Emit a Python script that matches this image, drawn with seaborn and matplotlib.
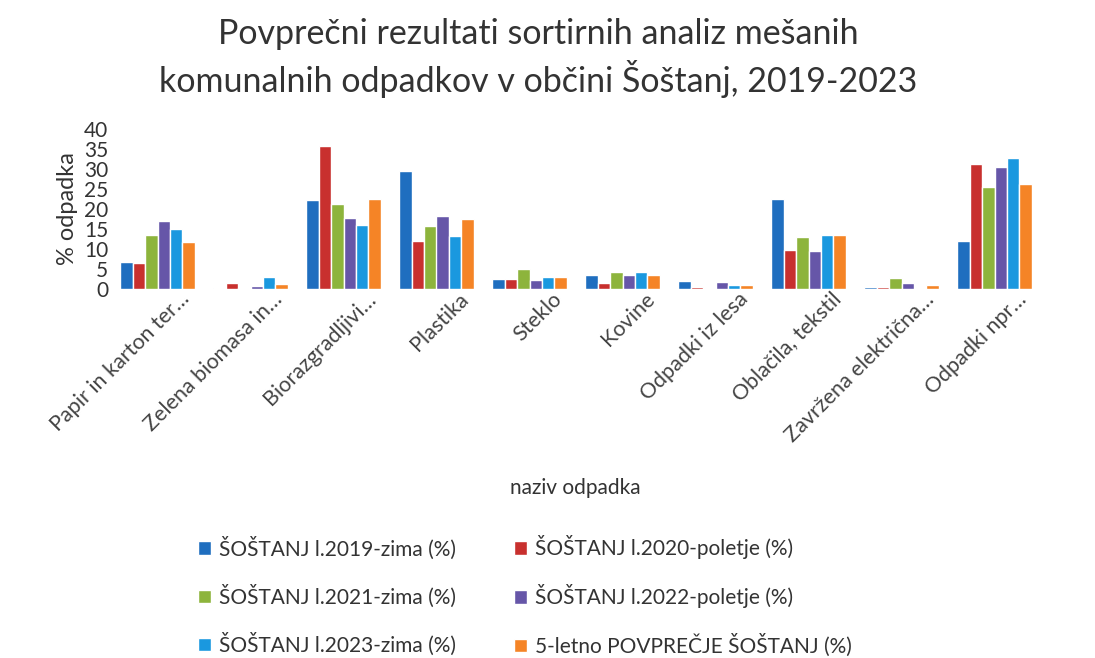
import matplotlib
matplotlib.use("Agg")
import matplotlib.pyplot as plt
import matplotlib.transforms as mtransforms
import seaborn as sns
import pandas as pd

categories = ["Papir in karton ter…", "Zelena biomasa in…", "Biorazgradljivi…", "Plastika",
              "Steklo", "Kovine", "Odpadki iz lesa", "Oblačila, tekstil",
              "Zavržena električna…", "Odpadki npr…"]
series_names = ["ŠOŠTANJ l.2019-zima (%)", "ŠOŠTANJ l.2020-poletje (%)",
                "ŠOŠTANJ l.2021-zima (%)", "ŠOŠTANJ l.2022-poletje (%)",
                "ŠOŠTANJ l.2023-zima (%)", "5-letno POVPREČJE ŠOŠTANJ (%)"]
s2019 = [6.8, 0.2, 22.2, 29.5, 2.4, 3.5, 2.0, 22.6, 0.5, 11.9]
s2020 = [6.4, 1.6, 35.8, 11.9, 2.4, 1.6, 0.6, 9.8, 0.5, 31.2]
s2021 = [13.5, 0.2, 21.3, 15.7, 5.1, 4.2, 0.0, 13.0, 2.8, 25.5]
s2022 = [16.9, 0.8, 17.8, 18.2, 2.2, 3.6, 1.7, 9.4, 1.6, 30.4]
s2023 = [15.0, 3.0, 16.1, 13.2, 3.1, 4.2, 1.0, 13.4, 0.0, 32.7]
avg5 = [11.8, 1.2, 22.6, 17.6, 3.1, 3.6, 1.0, 13.6, 1.0, 26.3]
colors = ["#1F6EBF", "#C8302E", "#8DB43C", "#6656A8", "#1A98DF", "#F58426"]

rows = []
for name, vals in zip(series_names, [s2019, s2020, s2021, s2022, s2023, avg5]):
    for c, v in zip(categories, vals):
        rows.append({"kategorija": c, "serija": name, "vrednost": v})
df = pd.DataFrame(rows)

sns.set_theme(style="white")
plt.rcParams['font.family'] = ['Lato', 'DejaVu Sans']

fig = plt.figure(figsize=(10.95, 6.58), dpi=100)
ax = fig.add_axes([111/1095, 1 - 289/658, 930/1095, 160/658])
sns.barplot(data=df, x="kategorija", y="vrednost", hue="serija", palette=colors,
            width=0.8, ax=ax, legend=True, saturation=1)
ax.set_ylim(0, 40)
ax.set_xlim(-0.5, 9.5)
ax.set_yticks(range(0, 41, 5))
ax.tick_params(axis='y', labelsize=15, colors="#333333", pad=2, length=0)
ax.tick_params(axis='x', length=0, pad=0)
ax.set_xticks(range(len(categories)))
ax.set_xticklabels(categories, rotation=45, ha="right", rotation_mode="anchor",
                   fontsize=15.5, color="#444444")
offset = mtransforms.ScaledTranslation(22/100, 0, fig.dpi_scale_trans)
for lbl in ax.get_xticklabels():
    lbl.set_transform(lbl.get_transform() + offset)
for s in ax.spines.values():
    s.set_visible(False)
ax.set_ylabel("% odpadka", fontsize=17, color="#333333", labelpad=4)
ax.set_xlabel("")
fig.text(575/1095, 1 - 488/658, "naziv odpadka", fontsize=15, color="#333333",
         ha="center", va="center")
fig.text(538/1095, 1 - 58/658,
         "Povprečni rezultati sortirnih analiz mešanih\nkomunalnih odpadkov v občini Šoštanj, 2019-2023",
         fontsize=24.5, color="#333333", ha="center", va="center", linespacing=1.3)

handles, labels = ax.get_legend_handles_labels()
ax.legend_.remove()
order = [0, 2, 4, 1, 3, 5]
fig.legend([handles[i] for i in order], [labels[i] for i in order],
           loc="center", bbox_to_anchor=(525/1095, 1 - 596/658),
           ncol=2, frameon=False, fontsize=15, labelcolor="#333333",
           handlelength=0.6, handleheight=0.6, handletextpad=0.4,
           columnspacing=2.8, labelspacing=1.2, borderpad=0.2)
fig.savefig("out.png", dpi=100)
